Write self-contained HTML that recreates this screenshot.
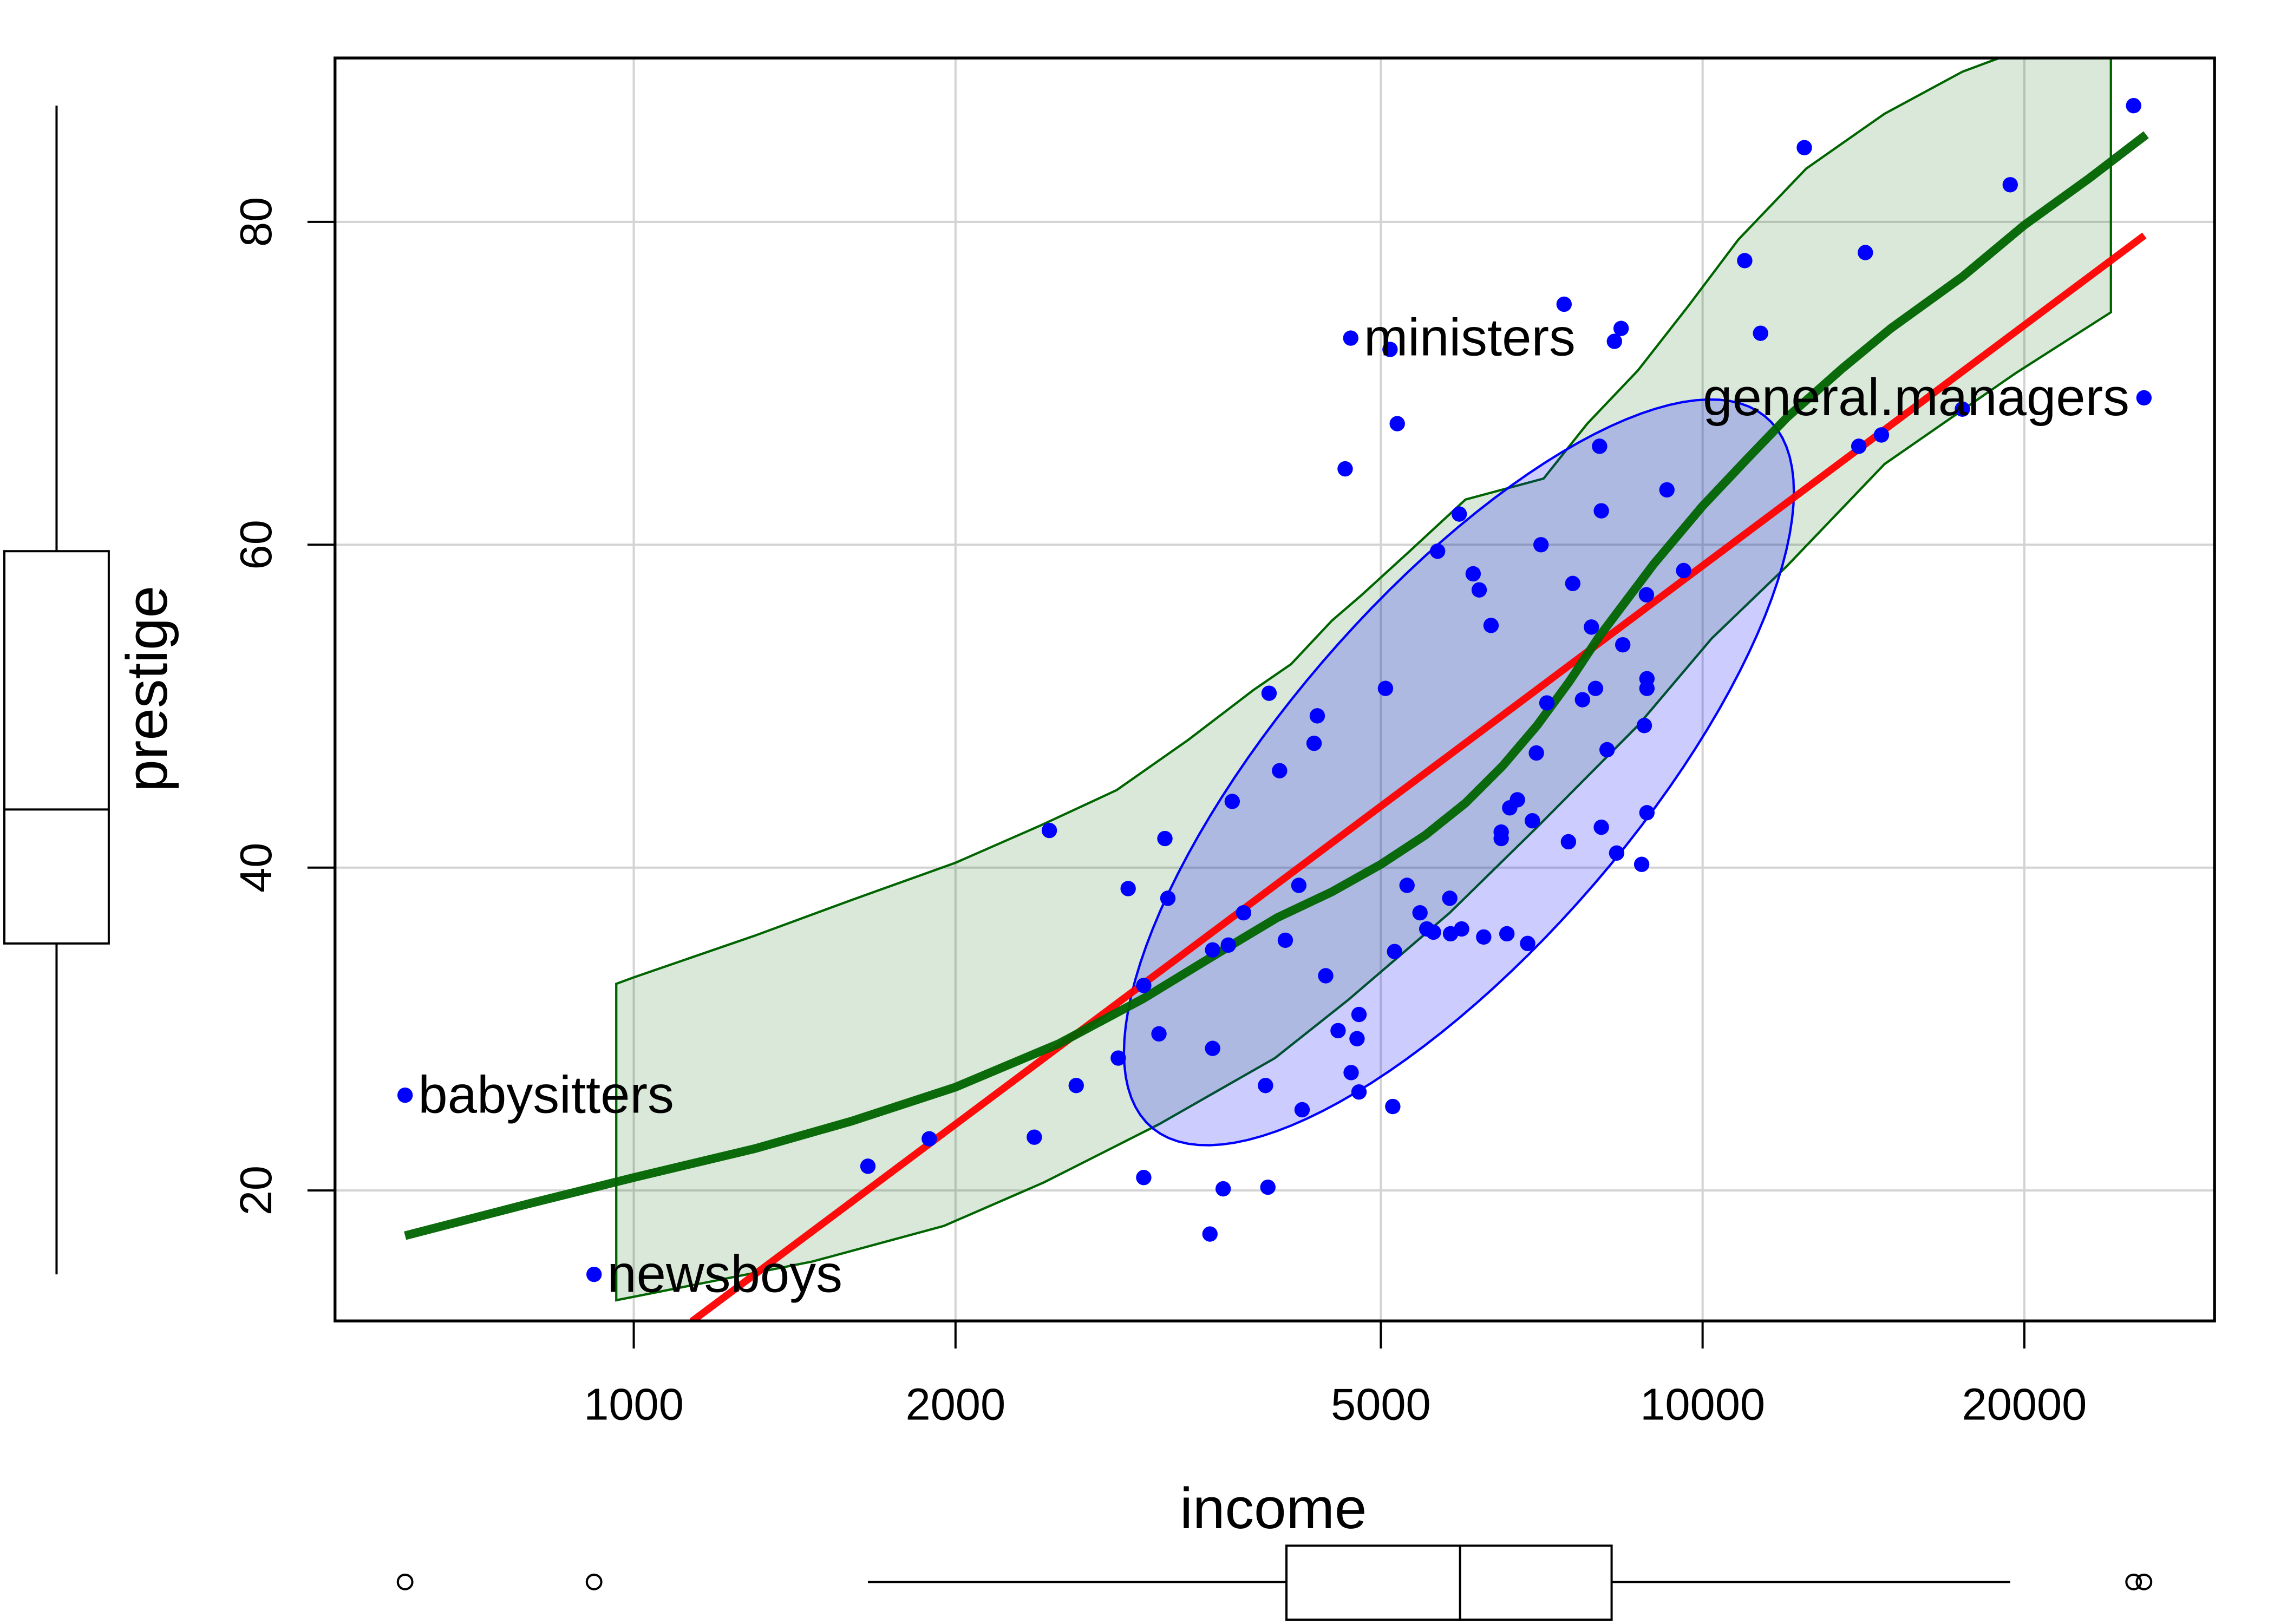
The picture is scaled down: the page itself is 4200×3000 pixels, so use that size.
<!DOCTYPE html>
<html><head><meta charset="utf-8"><style>html,body{margin:0;padding:0;background:#fff}svg{display:block}text{font-family:"Liberation Sans",sans-serif}</style></head>
<body>
<svg id="chart" width="4200" height="3000" viewBox="0 0 1568 1120" preserveAspectRatio="none" xmlns="http://www.w3.org/2000/svg">
<defs><clipPath id="pc"><rect x="231" y="40" width="1296" height="871"/></clipPath></defs>
<g id="grid"></g>
<g id="bands" clip-path="url(#pc)"></g>
<g id="marks" clip-path="url(#pc)"></g>
<g id="pts"></g>
<rect x="231" y="40" width="1296" height="871" fill="none" stroke="#000" stroke-width="2"/>
<g id="axes"></g>
<text x="878" y="1054" font-size="40" text-anchor="middle">income</text>
<text transform="translate(115,475) rotate(-90)" font-size="40" text-anchor="middle">prestige</text>
<g id="boxes"></g>
</svg>
<script>
const incomes=[611,918,25308,25879,4686,1656,1890,2370,2448,2594,2840,2901,3000,3000,3100,3140,3160,3460,3480,3480,3560,3600,3630,3720,3900,3920,3930,4020,4070,4190,4220,4330,4360,4440,4560,4690,4750,4770,4770,4630,5100,5180,5050,5150,5130,5290,5440,5520,5600,5650,5800,5810,5920,5950,6100,6180,6240,6340,6480,6480,6560,6600,6710,6860,6930,6990,7060,7150,7420,7490,7560,7720,7870,7940,8010,8040,8040,8140,8270,8310,8390,8420,8770,8820,8870,8870,8870,8860,9260,9600,10950,11330,12450,14000,14200,14700,17500,19400];
const prestige=[25.9,14.8,87.2,69.1,72.8,21.5,23.2,23.3,42.3,26.5,28.2,38.7,20.8,32.7,29.7,41.8,38.1,17.3,34.9,28.8,20.1,35.2,44.1,37.2,26.5,20.2,50.8,46.0,35.5,38.9,25.0,47.7,49.4,33.3,29.9,27.3,29.4,30.9,26.1,64.7,72.1,67.5,51.1,34.8,25.2,38.9,37.2,36.2,36.0,59.6,38.1,35.9,61.9,36.2,58.2,57.2,35.7,55.0,42.2,41.8,35.9,43.7,44.2,35.3,42.9,47.1,60.0,50.2,74.9,41.6,57.6,50.4,54.9,51.1,66.1,62.1,42.5,47.3,72.6,40.9,73.4,53.8,40.2,48.8,51.7,51.1,43.4,56.9,63.4,58.4,77.6,73.1,84.6,66.1,78.1,66.8,68.4,82.3];
const labelNames=["babysitters","newsboys","general.managers","ministers"];
const labelIdx=[0,1,3,4];
const xTicks=[1000,2000,5000,10000,20000];
const yTicks=[20,40,60,80];
const smoothX=[611,800,1000,1300,1600,2000,2500,3000,3500,4000,4500,5000,5500,6000,6500,7000,7500,8000,9000,10000,11000,12000,13500,15000,17500,20000,23000,26000];
const smoothY=[17.2,19.2,20.8,22.6,24.3,26.4,29.1,31.9,34.6,36.9,38.5,40.2,42.0,44.0,46.3,48.8,51.5,54.3,58.8,62.4,65.3,67.9,70.9,73.4,76.6,79.8,82.7,85.4];
const bandUpX=[963,1000,1300,1600,2000,2400,2830,3300,3800,4120,4500,4800,5300,6000,7100,7800,8700,9700,10800,12500,14800,17500,20500,24100,24100];
const bandUpY=[32.8,33.2,35.8,38.0,40.3,42.6,44.8,47.9,51.0,52.6,55.3,56.9,59.5,62.8,64.1,67.5,70.8,74.8,78.9,83.3,86.7,89.3,91.0,91.0,74.4];
const bandLoX=[24100,19600,14800,12000,10200,8700,7000,5800,4660,3980,3100,2420,1950,1470,963];
const bandLoY=[74.4,70.6,65.0,58.7,54.2,48.8,42.5,37.2,31.8,28.2,24.1,20.5,17.8,15.6,13.2];
const fitCoef=[-139.3,49.5];
const fitRange=[1133,25900];
const ellipseParams=[3.772,0.3134,45.9,23.1,0.72];
const prestigeBox=[14.8,35.3,43.6,59.6,87.2];
const incomeBox=[1656,4080,5930,8220,19400];
const incomeOutliers=[611,918,25308,25879];

const NS="http://www.w3.org/2000/svg";
const X=v=>437+737*(Math.log10(v)-3);
const Y=v=>821-(v-20)*11.133;
function mk(tag,attrs,parent){const e=document.createElementNS(NS,tag);for(const k in attrs)e.setAttribute(k,attrs[k]);parent.appendChild(e);return e;}
const g=id=>document.getElementById(id);

xTicks.forEach(t=>{
  const l=mk('line',{x1:X(t),x2:X(t),y1:40,y2:911,stroke:'#d3d3d3','stroke-width':1.5},g('grid'));
  
  
  const tk=mk('line',{x1:X(t),x2:X(t),y1:911,y2:930,stroke:'#000','stroke-width':1.5},g('axes'));
  
  
  const tx=mk('text',{x:X(t),y:979,'font-size':31,'text-anchor':'middle'},g('axes'));
  tx.textContent=t;
  
  
});
yTicks.forEach(t=>{
  const l=mk('line',{x1:231,x2:1527,y1:Y(t),y2:Y(t),stroke:'#d3d3d3','stroke-width':1.5},g('grid'));
  
  
  const tk=mk('line',{x1:212,x2:231,y1:Y(t),y2:Y(t),stroke:'#000','stroke-width':1.5},g('axes'));
  
  
  const tx=mk('text',{transform:`translate(187,${Y(t)}) rotate(-90)`,'font-size':31,'text-anchor':'middle'},g('axes'));
  tx.textContent=t;
  
  
});

let bp=bandUpX.map((v,i)=>X(v)+','+Y(bandUpY[i])).concat(bandLoX.map((v,i)=>X(v)+','+Y(bandLoY[i])));
const band=mk('polygon',{points:bp.join(' '),fill:'rgba(0,100,0,0.15)',stroke:'#006400','stroke-width':1.6},g('bands'));



const [mx,sx,my,sy,d]=ellipseParams;let ep=[];
for(let i=0;i<=120;i++){const t=i/120*2*Math.PI;ep.push(X(Math.pow(10,mx+sx*Math.cos(t)))+','+Y(my+sy*Math.cos(t-d)));}
const ell=mk('polygon',{points:ep.join(' '),fill:'rgba(0,0,255,0.2)',stroke:'#0000ff','stroke-width':1.6},g('marks'));



const fit=mk('line',{x1:X(fitRange[0]),y1:Y(fitCoef[0]+fitCoef[1]*Math.log10(fitRange[0])),x2:X(fitRange[1]),y2:Y(fitCoef[0]+fitCoef[1]*Math.log10(fitRange[1])),stroke:'#ff0000','stroke-width':5,'stroke-opacity':0.95},g('marks'));



const sm=mk('polyline',{points:smoothX.map((v,i)=>X(v)+','+Y(smoothY[i])).join(' '),fill:'none',stroke:'#006400','stroke-width':6,'stroke-opacity':0.95,'stroke-linejoin':'round'},g('marks'));



incomes.forEach((v,i)=>{
  const c=mk('circle',{cx:X(v),cy:Y(prestige[i]),r:5.3,fill:'#0000ff'},g('pts'));
  
  
});
labelIdx.forEach((idx,k)=>{
  const t=mk('text',{x:X(incomes[idx])+9,y:Y(prestige[idx])+12,'font-size':36.5},g('pts'));
  t.textContent=labelNames[k];
  if(labelNames[k]==='general.managers'){t.setAttribute('x',X(incomes[idx])-10);t.setAttribute('text-anchor','end');}
  
  
});

const B=g('boxes');const cx=39;
[[Y(prestigeBox[0]),Y(prestigeBox[1])],[Y(prestigeBox[3]),Y(prestigeBox[4])]].forEach(s=>{
  const w=mk('line',{x1:cx,x2:cx,y1:s[0],y2:s[1],stroke:'#000','stroke-width':1.5},B);
  
  
});
const pb=mk('rect',{x:3,width:72,y:Y(prestigeBox[3]),height:Y(prestigeBox[1])-Y(prestigeBox[3]),fill:'none',stroke:'#000','stroke-width':1.5},B);


const pm=mk('line',{x1:3,x2:75,y1:Y(prestigeBox[2]),y2:Y(prestigeBox[2]),stroke:'#000','stroke-width':1.5},B);



const cy=1091;
[[X(incomeBox[0]),X(incomeBox[1])],[X(incomeBox[3]),X(incomeBox[4])]].forEach(s=>{
  const w=mk('line',{x1:s[0],x2:s[1],y1:cy,y2:cy,stroke:'#000','stroke-width':1.5},B);
  
  
});
const ib=mk('rect',{x:X(incomeBox[1]),width:X(incomeBox[3])-X(incomeBox[1]),y:1066,height:51,fill:'none',stroke:'#000','stroke-width':1.5},B);


const im=mk('line',{x1:X(incomeBox[2]),x2:X(incomeBox[2]),y1:1066,y2:1117,stroke:'#000','stroke-width':1.5},B);


incomeOutliers.forEach(v=>{
  const o=mk('circle',{cx:X(v),cy:cy,r:5,fill:'none',stroke:'#000','stroke-width':1.5},B);
  
  
});
</script>
</body></html>
